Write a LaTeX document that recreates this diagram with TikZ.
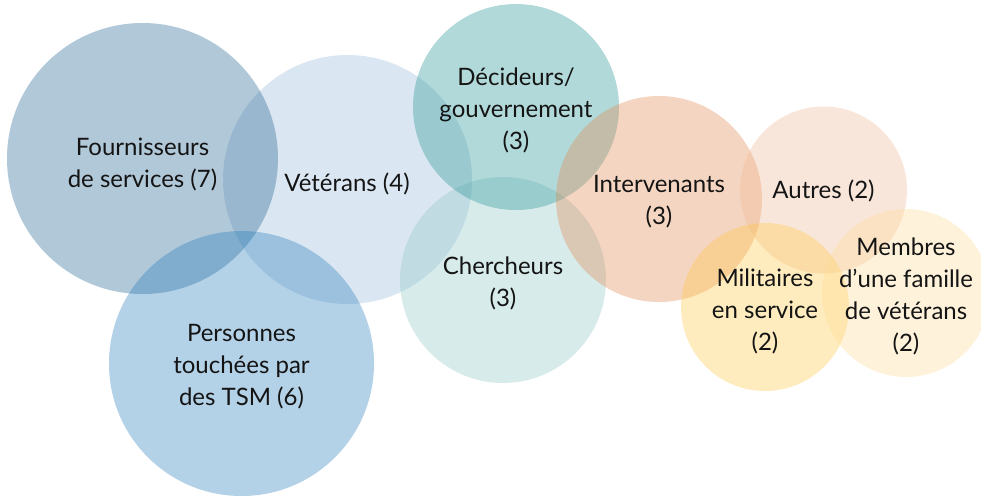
\documentclass[tikz,border=0pt]{standalone}
\usepackage{fontspec}
\setmainfont{Lato}
\begin{document}
\begin{tikzpicture}[x=1pt,y=-1pt,
  bubble/.style={circle, inner sep=0pt, fill opacity=0.35, draw=none},
  lbl/.style={align=center, font=\fontsize{24}{32}\selectfont, text=black!92}]
\definecolor{cFour}{RGB}{32,98,146}
\definecolor{cVet}{RGB}{149,186,218}
\definecolor{cPers}{RGB}{38,124,186}
\definecolor{cDec}{RGB}{35,146,146}
\definecolor{cCher}{RGB}{144,198,198}
\definecolor{cInt}{RGB}{224,135,78}
\definecolor{cAut}{RGB}{238,184,149}
\definecolor{cMil}{RGB}{255,201,69}
\definecolor{cMem}{RGB}{255,218,149}
\useasboundingbox (0,0) rectangle (981,496);
\clip (0,0) rectangle (981,496);
% bubbles, back to front
\node[bubble, fill=cVet,  minimum size=249pt] (vet)  at (347.5,179.5) {};
\node[bubble, fill=cFour, minimum size=271pt] (four) at (142.5,158.5) {};
\node[bubble, fill=cPers, minimum size=265pt] (pers) at (241.5,363.5) {};
\node[bubble, fill=cCher, minimum size=206pt] (cher) at (503,280) {};
\node[bubble, fill=cDec,  minimum size=206pt] (dec)  at (516,107) {};
\node[bubble, fill=cInt,  minimum size=206pt] (int)  at (659,199) {};
\node[bubble, fill=cAut,  minimum size=167pt] (aut)  at (823.5,190) {};
\node[bubble, fill=cMil,  minimum size=168pt] (mil)  at (765,307) {};
\node[bubble, fill=cMem,  minimum size=168pt] (mem)  at (906,293) {};
% labels
\node[lbl] (tfour) at (142.5,164) {Fournisseurs\\de services (7)};
\node[lbl] (tvet)  at (347,184) {Vétérans (4)};
\node[lbl] (tpers) at (241.5,367) {Personnes\\touchées par\\des TSM (6)};
\node[lbl] (tcher) at (503,283) {Chercheurs\\(3)};
\node[lbl] (tdec)  at (516,110) {Décideurs/\\gouvernement\\(3)};
\node[lbl] (tint)  at (659,202) {Intervenants\\(3)};
\node[lbl] (taut)  at (823.5,191) {Autres (2)};
\node[lbl] (tmil)  at (765,311) {Militaires\\en service\\(2)};
\node[lbl] (tmem)  at (906,296) {Membres\\d’une famille\\de vétérans\\(2)};
\end{tikzpicture}
\end{document}
